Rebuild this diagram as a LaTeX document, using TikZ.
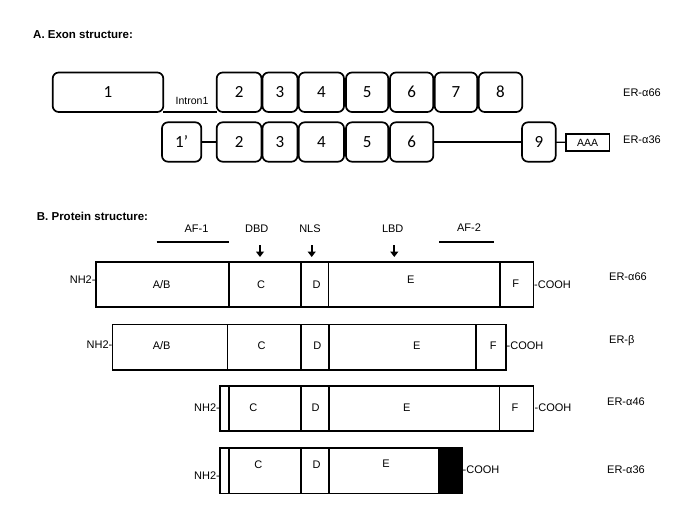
\documentclass[tikz,border=0pt]{standalone}
\usepackage{fontspec}
\setmainfont{Liberation Sans}
\newfontfamily\numfont{Carlito}
\usetikzlibrary{arrows.meta}
\tikzset{
  exon/.style={draw, line width=1.7pt, rounded corners=6pt, inner sep=0pt, outer sep=0pt, font=\numfont\fontsize{17}{17}\selectfont},
  aaabox/.style={draw, line width=1.3pt, inner sep=0pt, outer sep=0pt, font=\fontsize{10.5}{12}\selectfont},
  seg/.style={draw, line width=1.6pt, inner sep=0pt, outer sep=0pt},
  lab/.style={inner sep=0pt, font=\fontsize{11}{13}\selectfont},
  title/.style={inner sep=0pt, anchor=west, font=\bfseries\fontsize{11.5}{13}\selectfont},
  link/.style={line width=1.3pt},
  bar/.style={line width=1.8pt},
  domarrow/.style={line width=2pt, -{Triangle[length=5.5pt,width=8pt]}},
}
\newcommand\mkbox[7]{\node[#1, minimum width={(#4-#3)*1pt}, minimum height={(#6-#5)*1pt}] (#2) at ({(#3+#4)/2},{(#5+#6)/2}) {#7};}
\begin{document}
\begin{tikzpicture}[x=1pt,y=-1pt]
\useasboundingbox[fill=white] (0,0) rectangle (685,513);
% titles
\node[title] (ta) at (33,35) {A. Exon structure:};
\node[title] (tb) at (36.7,216.7) {B. Protein structure:};
% exon row 1
\mkbox{exon}{e1}{52.7}{163.3}{72.5}{112}{1}
\mkbox{exon}{e2}{216.7}{261.5}{72.5}{112}{2}
\mkbox{exon}{e3}{262.5}{297.5}{72.5}{112}{3}
\mkbox{exon}{e4}{298.7}{344}{72.5}{112}{4}
\mkbox{exon}{e5}{346}{388.3}{72.5}{112}{5}
\mkbox{exon}{e6}{390}{433.3}{72.5}{112}{6}
\mkbox{exon}{e7}{434.7}{477.3}{72.5}{112}{7}
\mkbox{exon}{e8}{478.7}{522.3}{72.5}{112}{8}
\draw[link] (e1.south east) -- (e2.south west);
\node[lab, font=\fontsize{10.5}{12}\selectfont] (intron) at (192,100.7) {Intron1};
\node[lab, anchor=west] (l66a) at (623,93) {ER-α66};
% exon row 2
\mkbox{exon}{f1}{162}{201.3}{122.3}{161.7}{1’}
\mkbox{exon}{f2}{216.7}{261.5}{122.3}{161.7}{2}
\mkbox{exon}{f3}{262.5}{297.5}{122.3}{161.7}{3}
\mkbox{exon}{f4}{298.7}{344}{122.3}{161.7}{4}
\mkbox{exon}{f5}{346}{388.3}{122.3}{161.7}{5}
\mkbox{exon}{f6}{390}{433.3}{122.3}{161.7}{6}
\mkbox{exon}{f9}{522}{555.7}{122.3}{161.7}{9}
\mkbox{aaabox}{aaa}{566}{609.3}{134}{151}{AAA}
\draw[link] (f1) -- (f2);
\draw[link] (f6) -- (f9);
\draw[link] (f9) -- (aaa);
\node[lab, anchor=west] (l36a) at (623,140) {ER-α36};
% domain annotations
\node[lab] (af1) at (196.5,229) {AF-1};
\coordinate (af1a) at (156.7,242.3);
\coordinate (af1b) at (229.3,242.3);
\draw[bar] (af1a) -- (af1b);
\node[lab] (dbd) at (256.7,229) {DBD};
\coordinate (dbda) at (260,245);
\coordinate (dbdb) at (260,257);
\draw[domarrow] (dbda) -- (dbdb);
\node[lab] (nls) at (310,229) {NLS};
\coordinate (nlsa) at (311.7,245);
\coordinate (nlsb) at (311.7,257);
\draw[domarrow] (nlsa) -- (nlsb);
\node[lab] (lbd) at (392.7,229) {LBD};
\coordinate (lbda) at (394.3,245);
\coordinate (lbdb) at (394.3,257);
\draw[domarrow] (lbda) -- (lbdb);
\node[lab] (af2) at (469,228) {AF-2};
\coordinate (af2a) at (439.3,242.3);
\coordinate (af2b) at (494,242.3);
\draw[bar] (af2a) -- (af2b);
% protein row 1: ER-alpha66
\mkbox{seg}{aab}{95.7}{229}{262}{307}{}
\mkbox{seg}{ac}{229}{301}{262}{307}{}
\mkbox{seg}{ad}{301}{328.3}{262}{307}{}
\mkbox{seg}{ae}{328.3}{500}{262}{307}{}
\mkbox{seg}{af}{500}{533.3}{262}{307}{}
\node[lab] (aabt) at (161.7,285) {A/B};
\node[lab] (act) at (261,285) {C};
\node[lab] (adt) at (316.7,285) {D};
\node[lab] (aet) at (410.7,279.3) {E};
\node[lab] (aft) at (515.7,284) {F};
\node[lab, anchor=east] (anh) at (95.7,280) {NH2-};
\node[lab, anchor=west] (aco) at (534,284.3) {-COOH};
\node[lab, anchor=west] (anm) at (609,277) {ER-α66};
% protein row 2: ER-beta
\mkbox{seg}{bab}{112.5}{227.3}{324.5}{369.7}{}
\mkbox{seg}{bc}{227.3}{301}{324.5}{369.7}{}
\mkbox{seg}{bd}{301}{328.7}{324.5}{369.7}{}
\mkbox{seg}{be}{328.7}{476}{324.5}{369.7}{}
\mkbox{seg}{bf}{476}{505.7}{324.5}{369.7}{}
\node[lab] (babt) at (161.7,346) {A/B};
\node[lab] (bct) at (261.7,346) {C};
\node[lab] (bdt) at (317.3,346) {D};
\node[lab] (bet) at (416.7,346) {E};
\node[lab] (bft) at (493.3,346) {F};
\node[lab, anchor=east] (bnh) at (112.5,345) {NH2-};
\node[lab, anchor=west] (bco) at (506.5,346) {-COOH};
\node[lab, anchor=west] (bnm) at (609,340.7) {ER-β};
% protein row 3: ER-alpha46
\mkbox{seg}{cs}{220}{228.7}{386}{431}{}
\mkbox{seg}{cc}{228.7}{300.7}{386}{431}{}
\mkbox{seg}{cd}{300.7}{328.7}{386}{431}{}
\mkbox{seg}{ce}{328.7}{499.3}{386}{431}{}
\mkbox{seg}{cf}{499.3}{533.3}{386}{431}{}
\node[lab] (cct) at (253.3,408) {C};
\node[lab] (cdt) at (315.5,408) {D};
\node[lab] (cet) at (406.7,408) {E};
\node[lab] (cft) at (515,408) {F};
\node[lab, anchor=east] (cnh) at (220,408) {NH2-};
\node[lab, anchor=west] (cco) at (534.5,408) {-COOH};
\node[lab, anchor=west] (cnm) at (607,401.3) {ER-α46};
% protein row 4: ER-alpha36
\mkbox{seg}{ds}{220}{228.7}{448}{493.3}{}
\mkbox{seg}{dc}{228.7}{300.7}{448}{493.3}{}
\mkbox{seg}{dd}{300.7}{328.7}{448}{493.3}{}
\mkbox{seg}{de}{328.7}{438.3}{448}{493.3}{}
\mkbox{seg, fill=black}{dk}{438.3}{462}{448}{493.3}{}
\node[lab] (dct) at (258.3,464.3) {C};
\node[lab] (ddt) at (316.7,464.7) {D};
\node[lab] (det) at (386,464) {E};
\node[lab, anchor=east] (dnh) at (220,475.7) {NH2-};
\node[lab, anchor=west] (dco) at (462.5,469.3) {-COOH};
\node[lab, anchor=west] (dnm) at (607,470) {ER-α36};
\end{tikzpicture}
\end{document}
